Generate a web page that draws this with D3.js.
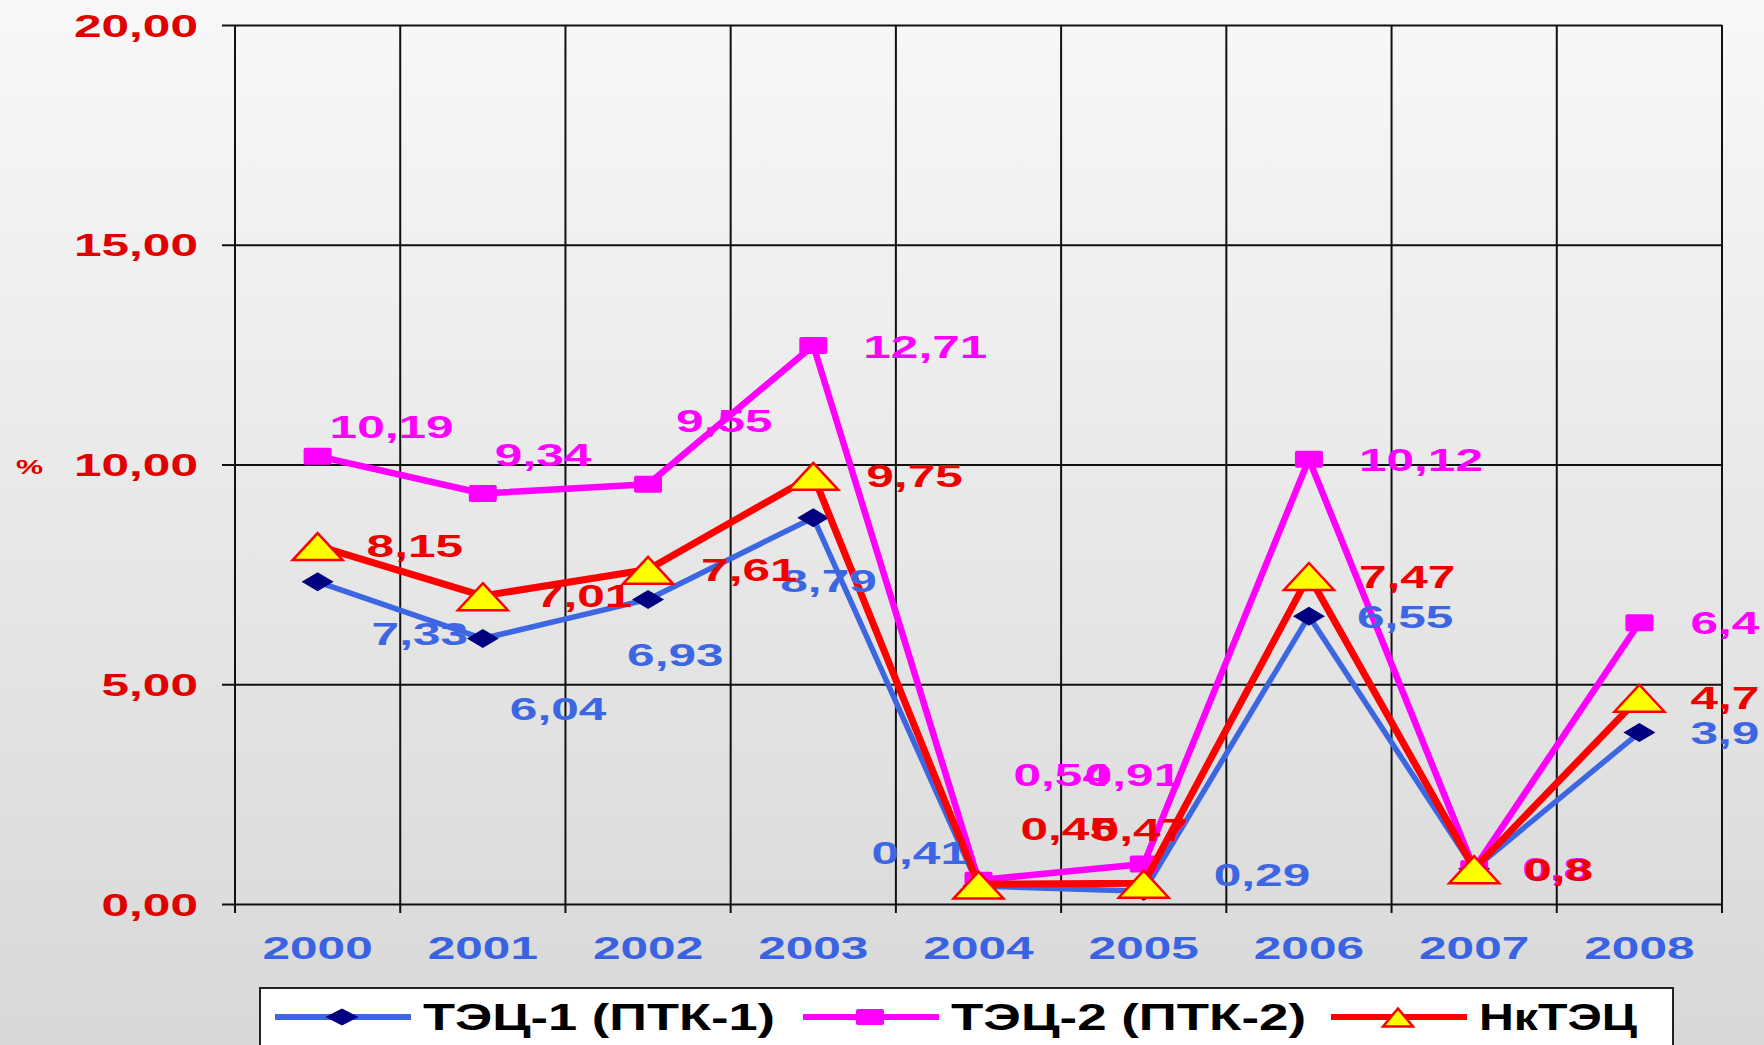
<!DOCTYPE html>
<html>
<head>
<meta charset="utf-8">
<script src="https://cdn.jsdelivr.net/npm/d3@7"></script>
<style>
  html, body { margin: 0; padding: 0; overflow: hidden; }
  svg { display: block; font-family: 'Liberation Sans', Arial, sans-serif; font-weight: bold; }
</style>
</head>
<body>
<svg width="1764" height="1045"></svg>
<script>
// categories and values
var years = ['2000', '2001', '2002', '2003', '2004', '2005', '2006', '2007', '2008'];
var tec1 = [7.33, 6.04, 6.93, 8.79, 0.41, 0.29, 6.55, 0.8, 3.9];
var tec2 = [10.19, 9.34, 9.55, 12.71, 0.54, 0.91, 10.12, 0.8, 6.4];
var nktec = [8.15, 7.01, 7.61, 9.75, 0.45, 0.47, 7.47, 0.8, 4.7];
var yTicks = [0, 5, 10, 15, 20];
var seriesNames = ['ТЭЦ-1 (ПТК-1)', 'ТЭЦ-2 (ПТК-2)', 'НкТЭЦ'];

// hand-placed data label shifts (px from the point), as in the original slide
var tec1LabelShift = [[54, 52], [27, 70], [-21, 55], [-33, 63], [-107, -33], [70, -16], [48, 1], [49, 1], [51, 0]];
var tec2LabelShift = [[12, -29], [12, -39], [28, -63], [50, 1], [35, -105], [-59, -89], [50, 1], [48, 0], [51, 0]];
var nkLabelShift = [[49, 0], [53, 0], [53, 0], [53, 0], [42, -55], [-52, -54], [50, 1], [50, 1], [51, 0]];

var svg = d3.select('svg');
var W = 1764, H = 1045;
// note: "top" is taken by window.top, so the plot edges get their own names
var plotLeft = 235, plotRight = 1722, plotTop = 25, plotBottom = 904;
var stretch = 1.6; // the slide text is drawn wide

// background gradient
var grad = svg.append('defs').append('linearGradient')
    .attr('id', 'bg').attr('x1', 0).attr('y1', 0).attr('x2', 0).attr('y2', 1);
grad.append('stop').attr('offset', '0%').attr('stop-color', '#f8f8f8');
grad.append('stop').attr('offset', '100%').attr('stop-color', '#d8d8d8');
svg.append('rect').attr('width', W).attr('height', H).attr('fill', 'url(#bg)');

var x = d3.scaleBand().domain(years).range([plotLeft, plotRight]);
var y = d3.scaleLinear().domain([0, 20]).range([plotBottom, plotTop]);
var bw = x.bandwidth();
function cx(i) { return x(years[i]) + bw / 2; }

function fmt(v) { return String(v).replace('.', ','); }

// vertical grid lines at the category boundaries
var bounds = years.map(function(d) { return x(d); }).concat([plotRight]);
svg.append('g').selectAll('line')
    .data(bounds)
    .enter()
    .append('line')
    .attr('x1', function(d) { return d; })
    .attr('x2', function(d) { return d; })
    .attr('y1', plotTop)
    .attr('y2', plotBottom + 9)
    .attr('stroke', '#111')
    .attr('stroke-width', 2);

// y axis with horizontal grid
var yAxis = d3.axisLeft(y)
    .tickValues(yTicks)
    .tickSize(-(plotRight - plotLeft))
    .tickSizeOuter(0)
    .tickFormat(function(d) { return d3.format('.2f')(d).replace('.', ','); });

var gy = svg.append('g').attr('transform', 'translate(' + plotLeft + ',0)').call(yAxis);
gy.select('.domain').remove();
gy.selectAll('.tick line').attr('x1', -13).attr('stroke', '#111').attr('stroke-width', 2);
gy.selectAll('.tick text')
    .attr('x', 0)
    .attr('dy', '0.36em')
    .attr('transform', 'translate(-37,0) scale(' + stretch + ',1)')
    .attr('fill', '#e00000')
    .style('font-size', '31px')
    .style('font-family', "'Liberation Sans', Arial, sans-serif")
    .style('font-weight', 'bold');

svg.append('text')
    .attr('transform', 'translate(16,467) scale(1.45,1)')
    .attr('dy', '0.35em')
    .attr('fill', '#e00000')
    .style('font-size', '21px')
    .text('%');

// x axis labels
var xAxis = d3.axisBottom(x).tickSize(0).tickSizeOuter(0);
var gx = svg.append('g').attr('transform', 'translate(0,' + plotBottom + ')').call(xAxis);
gx.select('.domain').remove();
gx.selectAll('.tick text')
    .attr('y', 0)
    .attr('dy', '0.36em')
    .attr('transform', 'translate(0,44) scale(' + stretch + ',1)')
    .attr('fill', '#3a63e2')
    .style('font-size', '31px')
    .style('font-family', "'Liberation Sans', Arial, sans-serif")
    .style('font-weight', 'bold');

// marker shapes
function diamond(sel, w, h) {
    sel.append('path')
        .attr('d', 'M0,' + (-h / 2) + 'L' + (w / 2) + ',0L0,' + (h / 2) + 'L' + (-w / 2) + ',0Z')
        .attr('fill', '#000080');
}
function square(sel, w, h) {
    sel.append('rect')
        .attr('x', -w / 2).attr('y', -h / 2)
        .attr('width', w).attr('height', h)
        .attr('rx', 2)
        .attr('fill', '#ff00ff');
}
function triangle(sel, w, h) {
    sel.append('path')
        .attr('d', 'M0,' + (-h * 0.47) + 'L' + (w / 2) + ',' + (h * 0.53) + 'L' + (-w / 2) + ',' + (h * 0.53) + 'Z')
        .attr('fill', '#ffff00')
        .attr('stroke', '#ff0000')
        .attr('stroke-width', 2.5)
        .attr('stroke-linejoin', 'miter');
}

var series = [
    { name: seriesNames[0], values: tec1, color: '#3d66e3', width: 5.5, labelColor: '#3d66e3', marker: diamond, mw: 32, mh: 19, lw: 33, lh: 17, shift: tec1LabelShift },
    { name: seriesNames[1], values: tec2, color: '#ff00ff', width: 6.5, labelColor: '#ff00ff', marker: square, mw: 28, mh: 17, lw: 28, lh: 16, shift: tec2LabelShift },
    { name: seriesNames[2], values: nktec, color: '#ff0000', width: 7, labelColor: '#ee0000', marker: triangle, mw: 50, mh: 27, lw: 30, lh: 18, shift: nkLabelShift }
];

var line = d3.line()
    .x(function(d, i) { return cx(i); })
    .y(function(d) { return y(d); });

// lines and markers, one series after another
series.forEach(function(s) {
    var g = svg.append('g');
    g.append('path')
        .attr('d', line(s.values))
        .attr('fill', 'none')
        .attr('stroke', s.color)
        .attr('stroke-width', s.width)
        .attr('stroke-linejoin', 'round');
    g.selectAll('.pt')
        .data(s.values)
        .enter()
        .append('g')
        .attr('class', 'pt')
        .attr('transform', function(d, i) { return 'translate(' + cx(i) + ',' + y(d) + ')'; })
        .each(function() { s.marker(d3.select(this), s.mw, s.mh); });
});

// data labels on top
series.forEach(function(s) {
    svg.append('g').selectAll('text')
        .data(s.values)
        .enter()
        .append('text')
        .attr('transform', function(d, i) {
            return 'translate(' + (cx(i) + s.shift[i][0]) + ',' + (y(d) + s.shift[i][1]) + ') scale(' + stretch + ',1)';
        })
        .attr('dy', '0.36em')
        .attr('fill', s.labelColor)
        .style('font-size', '31px')
        .text(function(d) { return fmt(d); });
});

// legend
var legX = 260, legY = 988, legW = 1413, legH = 58;
var leg = svg.append('g');
leg.append('rect')
    .attr('x', legX).attr('y', legY)
    .attr('width', legW).attr('height', legH)
    .attr('fill', '#ffffff')
    .attr('stroke', '#222')
    .attr('stroke-width', 2);

var legTextLen = [352, 355, 158];
var items = leg.selectAll('.item')
    .data(series)
    .enter()
    .append('g')
    .attr('class', 'item')
    .attr('transform', function(d, i) { return 'translate(' + (275 + i * 528) + ',1017)'; });

items.append('line')
    .attr('x1', 0).attr('x2', 136)
    .attr('stroke', function(d) { return d.color; })
    .attr('stroke-width', 6);
items.each(function(d) {
    var m = d3.select(this).append('g').attr('transform', 'translate(67,0)');
    d.marker(m, d.lw, d.lh);
});
items.append('text')
    .attr('x', 148)
    .attr('dy', '0.36em')
    .attr('textLength', function(d, i) { return legTextLen[i]; })
    .attr('lengthAdjust', 'spacingAndGlyphs')
    .attr('fill', '#000')
    .style('font-size', '37px')
    .text(function(d) { return d.name; });
</script>
</body>
</html>
